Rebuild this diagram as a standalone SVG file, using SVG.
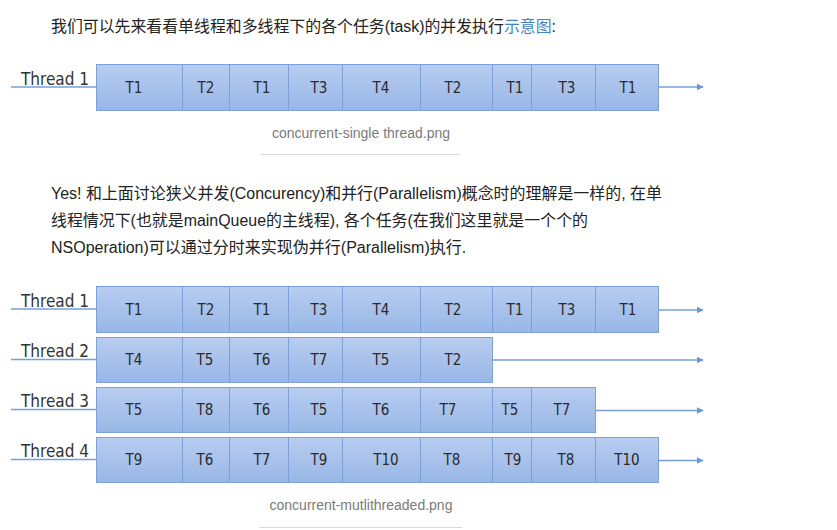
<svg xmlns="http://www.w3.org/2000/svg" width="837" height="530" viewBox="0 0 837 530">
<defs>
<linearGradient id="cellGrad" x1="0" y1="0" x2="0" y2="1">
<stop offset="0" stop-color="#b8cdf0"/>
<stop offset="1" stop-color="#98b6e6"/>
</linearGradient>
<marker id="arr" viewBox="0 0 10 10" refX="9" refY="5" markerWidth="7" markerHeight="7" markerUnits="userSpaceOnUse" orient="auto">
<path d="M0,0 L10,5 L0,10 Z" fill="#6d98d6"/>
</marker>
</defs>
<style>
.body{font-family:"Liberation Sans","Noto Sans CJK SC",sans-serif;font-size:16px;fill:#222;}
.link{fill:#4183c4;}
.cap{font-family:"Liberation Sans","Noto Sans CJK SC",sans-serif;font-size:14px;fill:#7a7a7a;text-anchor:middle;}
.sep{stroke:#d9d9d9;stroke-width:1;}
.cell{fill:url(#cellGrad);stroke:#7ba0da;stroke-width:1;}
.ct{font-family:"DejaVu Sans Condensed","DejaVu Sans",sans-serif;font-size:15px;fill:#2a2a2a;text-anchor:middle;}
.th{font-family:"DejaVu Sans Condensed","DejaVu Sans",sans-serif;font-size:17px;fill:#333;}
.lead{stroke:#76a0da;stroke-width:1.5;fill:none;}
.conn{stroke:#76a0da;stroke-width:1.5;fill:none;marker-end:url(#arr);}
</style>
<rect width="837" height="530" fill="#ffffff"/>

<text class="body" x="51" y="32" textLength="505" lengthAdjust="spacingAndGlyphs">我们可以先来看看单线程和多线程下的各个任务(task)的并发执行<tspan class="link">示意图</tspan>:</text>

<text class="body" x="51" y="199" textLength="611" lengthAdjust="spacingAndGlyphs">Yes! 和上面讨论狭义并发(Concurency)和并行(Parallelism)概念时的理解是一样的, 在单</text>
<text class="body" x="51" y="226" textLength="537" lengthAdjust="spacingAndGlyphs">线程情况下(也就是mainQueue的主线程), 各个任务(在我们这里就是一个个的</text>
<text class="body" x="51" y="253">NSOperation)可以通过分时来实现伪并行(Parallelism)执行.</text>

<!-- Single thread diagram -->
<g id="single-thread1-label">
<text class="th" x="21" y="85">Thread 1</text>
<line class="lead" x1="11" y1="87" x2="96" y2="87"/>
</g>
<g id="single-row1">
<g id="s1c1"><rect class="cell" x="96.5" y="64.5" width="86" height="46"/><text class="ct" x="134" y="93">T1</text></g>
<g id="s1c2"><rect class="cell" x="182.5" y="64.5" width="47" height="46"/><text class="ct" x="206" y="93">T2</text></g>
<g id="s1c3"><rect class="cell" x="229.5" y="64.5" width="59" height="46"/><text class="ct" x="262" y="93">T1</text></g>
<g id="s1c4"><rect class="cell" x="288.5" y="64.5" width="54" height="46"/><text class="ct" x="319" y="93">T3</text></g>
<g id="s1c5"><rect class="cell" x="342.5" y="64.5" width="78" height="46"/><text class="ct" x="381" y="93">T4</text></g>
<g id="s1c6"><rect class="cell" x="420.5" y="64.5" width="72" height="46"/><text class="ct" x="453" y="93">T2</text></g>
<g id="s1c7"><rect class="cell" x="492.5" y="64.5" width="39" height="46"/><text class="ct" x="515" y="93">T1</text></g>
<g id="s1c8"><rect class="cell" x="531.5" y="64.5" width="64" height="46"/><text class="ct" x="567" y="93">T3</text></g>
<g id="s1c9"><rect class="cell" x="595.5" y="64.5" width="63" height="46"/><text class="ct" x="628" y="93">T1</text></g>
</g>
<text class="cap" x="361" y="138">concurrent-single thread.png</text>
<line class="sep" x1="261" y1="154.5" x2="460" y2="154.5"/>

<!-- Multi thread labels -->
<g id="m-thread1-label"><text class="th" x="21" y="307">Thread 1</text><line class="lead" x1="11" y1="309" x2="96" y2="309"/></g>
<g id="m-thread2-label"><text class="th" x="21" y="357">Thread 2</text><line class="lead" x1="11" y1="359.5" x2="96" y2="359.5"/></g>
<g id="m-thread3-label"><text class="th" x="21" y="407">Thread 3</text><line class="lead" x1="11" y1="409.5" x2="96" y2="409.5"/></g>
<g id="m-thread4-label"><text class="th" x="21" y="457">Thread 4</text><line class="lead" x1="11" y1="459.5" x2="96" y2="459.5"/></g>

<!-- Row 1 -->
<g id="m-row1">
<g id="m1c1"><rect class="cell" x="96.5" y="286.5" width="86" height="46"/><text class="ct" x="134" y="315">T1</text></g>
<g id="m1c2"><rect class="cell" x="182.5" y="286.5" width="47" height="46"/><text class="ct" x="206" y="315">T2</text></g>
<g id="m1c3"><rect class="cell" x="229.5" y="286.5" width="59" height="46"/><text class="ct" x="262" y="315">T1</text></g>
<g id="m1c4"><rect class="cell" x="288.5" y="286.5" width="54" height="46"/><text class="ct" x="319" y="315">T3</text></g>
<g id="m1c5"><rect class="cell" x="342.5" y="286.5" width="78" height="46"/><text class="ct" x="381" y="315">T4</text></g>
<g id="m1c6"><rect class="cell" x="420.5" y="286.5" width="72" height="46"/><text class="ct" x="453" y="315">T2</text></g>
<g id="m1c7"><rect class="cell" x="492.5" y="286.5" width="39" height="46"/><text class="ct" x="515" y="315">T1</text></g>
<g id="m1c8"><rect class="cell" x="531.5" y="286.5" width="64" height="46"/><text class="ct" x="567" y="315">T3</text></g>
<g id="m1c9"><rect class="cell" x="595.5" y="286.5" width="63" height="46"/><text class="ct" x="628" y="315">T1</text></g>
</g>
<!-- Row 2 -->
<g id="m-row2">
<g id="m2c1"><rect class="cell" x="96.5" y="337.5" width="86" height="45"/><text class="ct" x="134" y="365">T4</text></g>
<g id="m2c2"><rect class="cell" x="182.5" y="337.5" width="47" height="45"/><text class="ct" x="205" y="365">T5</text></g>
<g id="m2c3"><rect class="cell" x="229.5" y="337.5" width="59" height="45"/><text class="ct" x="262" y="365">T6</text></g>
<g id="m2c4"><rect class="cell" x="288.5" y="337.5" width="54" height="45"/><text class="ct" x="319" y="365">T7</text></g>
<g id="m2c5"><rect class="cell" x="342.5" y="337.5" width="78" height="45"/><text class="ct" x="381" y="365">T5</text></g>
<g id="m2c6"><rect class="cell" x="420.5" y="337.5" width="72" height="45"/><text class="ct" x="453" y="365">T2</text></g>
</g>
<!-- Row 3 -->
<g id="m-row3">
<g id="m3c1"><rect class="cell" x="96.5" y="387.5" width="86" height="45"/><text class="ct" x="134" y="415">T5</text></g>
<g id="m3c2"><rect class="cell" x="182.5" y="387.5" width="47" height="45"/><text class="ct" x="205" y="415">T8</text></g>
<g id="m3c3"><rect class="cell" x="229.5" y="387.5" width="59" height="45"/><text class="ct" x="262" y="415">T6</text></g>
<g id="m3c4"><rect class="cell" x="288.5" y="387.5" width="54" height="45"/><text class="ct" x="319" y="415">T5</text></g>
<g id="m3c5"><rect class="cell" x="342.5" y="387.5" width="78" height="45"/><text class="ct" x="381" y="415">T6</text></g>
<g id="m3c6"><rect class="cell" x="420.5" y="387.5" width="72" height="45"/><text class="ct" x="448" y="415">T7</text></g>
<g id="m3c7"><rect class="cell" x="492.5" y="387.5" width="39" height="45"/><text class="ct" x="510" y="415">T5</text></g>
<g id="m3c8"><rect class="cell" x="531.5" y="387.5" width="64" height="45"/><text class="ct" x="562" y="415">T7</text></g>
</g>
<!-- Row 4 -->
<g id="m-row4">
<g id="m4c1"><rect class="cell" x="96.5" y="437.5" width="86" height="45"/><text class="ct" x="134" y="465">T9</text></g>
<g id="m4c2"><rect class="cell" x="182.5" y="437.5" width="47" height="45"/><text class="ct" x="205" y="465">T6</text></g>
<g id="m4c3"><rect class="cell" x="229.5" y="437.5" width="59" height="45"/><text class="ct" x="262" y="465">T7</text></g>
<g id="m4c4"><rect class="cell" x="288.5" y="437.5" width="54" height="45"/><text class="ct" x="319" y="465">T9</text></g>
<g id="m4c5"><rect class="cell" x="342.5" y="437.5" width="78" height="45"/><text class="ct" x="386" y="465">T10</text></g>
<g id="m4c6"><rect class="cell" x="420.5" y="437.5" width="72" height="45"/><text class="ct" x="452" y="465">T8</text></g>
<g id="m4c7"><rect class="cell" x="492.5" y="437.5" width="39" height="45"/><text class="ct" x="513" y="465">T9</text></g>
<g id="m4c8"><rect class="cell" x="531.5" y="437.5" width="64" height="45"/><text class="ct" x="566" y="465">T8</text></g>
<g id="m4c9"><rect class="cell" x="595.5" y="437.5" width="63" height="45"/><text class="ct" x="627" y="465">T10</text></g>
</g>

<g id="connectors">
<line class="conn" x1="658" y1="87" x2="703" y2="87"/>
<line class="conn" x1="658" y1="310" x2="703" y2="310"/>
<line class="conn" x1="492" y1="360" x2="703" y2="360"/>
<line class="conn" x1="595" y1="410.5" x2="703" y2="410.5"/>
<line class="conn" x1="658" y1="460.5" x2="703" y2="460.5"/>
</g>

<text class="cap" x="361" y="510">concurrent-mutlithreaded.png</text>
<line class="sep" x1="259" y1="527.5" x2="462" y2="527.5"/>
</svg>
